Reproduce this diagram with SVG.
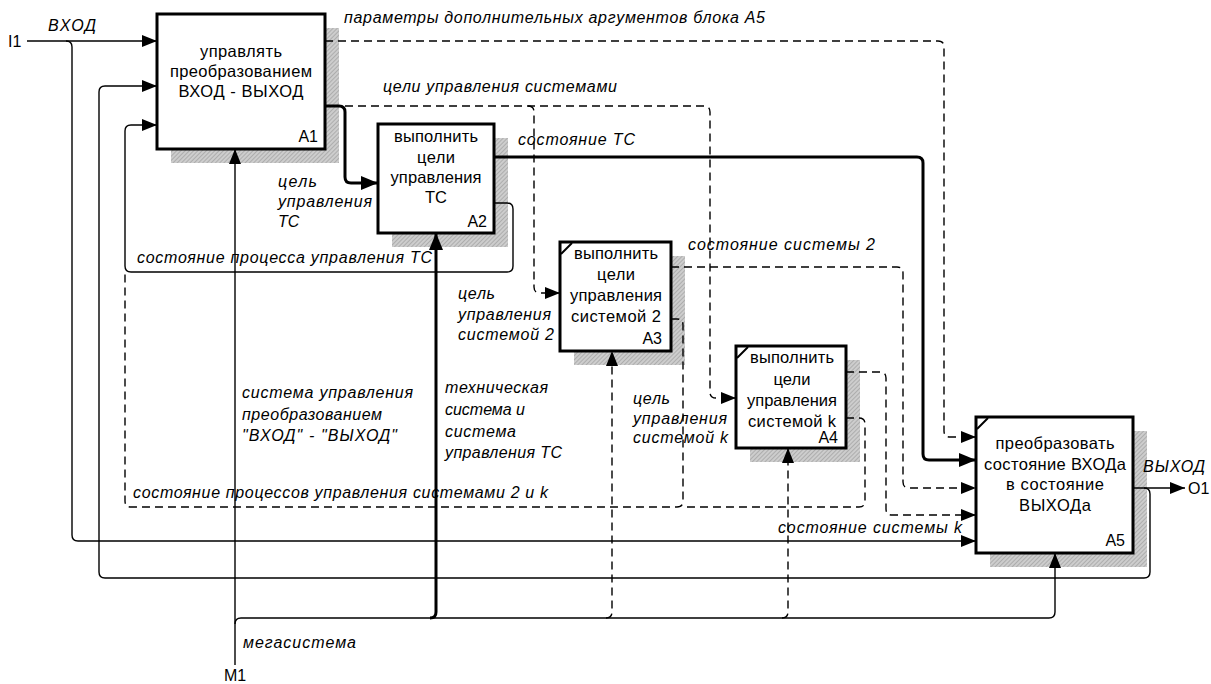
<svg xmlns="http://www.w3.org/2000/svg" width="1211" height="684" viewBox="0 0 1211 684">
<defs>
<pattern id="hatch" width="3" height="3" patternUnits="userSpaceOnUse" patternTransform="rotate(45)">
<rect width="3" height="3" fill="#cdcdcd"/><rect width="1" height="3" fill="#adadad"/>
</pattern>
<marker id="ar" markerUnits="userSpaceOnUse" markerWidth="15" markerHeight="12" refX="15" refY="6" orient="auto"><path d="M0,0 L15,6 L0,12 z" fill="#000"/></marker>
<marker id="arT" markerUnits="userSpaceOnUse" markerWidth="17" markerHeight="14" refX="17" refY="7" orient="auto"><path d="M0,0 L17,7 L0,14 z" fill="#000"/></marker>
<style>
.sh{fill:url(#hatch);}
.bx{fill:#fff;stroke:#000;stroke-width:3;}
.cn{fill:none;stroke:#000;stroke-width:1.4;stroke-linejoin:round;}
.th{fill:none;stroke:#000;stroke-width:3;}
.ds{fill:none;stroke:#000;stroke-width:1.4;stroke-dasharray:8 5;}
.cr{stroke:#000;stroke-width:2;}
.bt{font-family:"Liberation Sans",Arial,sans-serif;font-size:16.5px;text-anchor:middle;fill:#000;}
.id{font-family:"Liberation Sans",Arial,sans-serif;font-size:16px;text-anchor:end;fill:#000;}
.lb{font-family:"Liberation Sans",Arial,sans-serif;font-size:16px;font-style:italic;fill:#000;}
.tm{font-family:"Liberation Sans",Arial,sans-serif;font-size:16px;fill:#000;}
</style>
</defs>
<rect width="1211" height="684" fill="#fff"/>

<g id="A1">
<rect class="sh" x="171" y="28" width="168" height="135"/>
<rect class="bx" x="157" y="14" width="168" height="135"/>
<text class="bt" x="241" y="57" textLength="82">управлять</text>
<text class="bt" x="241" y="77" textLength="142">преобразованием</text>
<text class="bt" x="241" y="97" textLength="125">ВХОД - ВЫХОД</text>
<text class="id" x="318" y="142">A1</text>
</g>

<g id="A2">
<rect class="sh" x="392" y="138" width="116" height="109"/>
<rect class="bx" x="378" y="124" width="116" height="109"/>
<text class="bt" x="436" y="142" textLength="84">выполнить</text>
<text class="bt" x="436" y="163" textLength="38">цели</text>
<text class="bt" x="436" y="183" textLength="91">управления</text>
<text class="bt" x="436" y="203">ТС</text>
<text class="id" x="487" y="227">A2</text>
</g>

<g id="A3">
<rect class="sh" x="574" y="256" width="111" height="109"/>
<rect class="bx" x="560" y="242" width="111" height="109"/>
<line class="cr" x1="561" y1="254" x2="572" y2="243"/>
<text class="bt" x="616" y="259" textLength="84">выполнить</text>
<text class="bt" x="616" y="280" textLength="38">цели</text>
<text class="bt" x="616" y="301" textLength="92">управления</text>
<text class="bt" x="616" y="322" textLength="90">системой 2</text>
<text class="id" x="662" y="344">A3</text>
</g>

<g id="A4">
<rect class="sh" x="750" y="360" width="110" height="102"/>
<rect class="bx" x="736" y="346" width="110" height="102"/>
<line class="cr" x1="737" y1="358" x2="748" y2="347"/>
<text class="bt" x="792" y="363" textLength="84">выполнить</text>
<text class="bt" x="792" y="385" textLength="37">цели</text>
<text class="bt" x="792" y="406" textLength="90">управления</text>
<text class="bt" x="792" y="427" textLength="88">системой k</text>
<text class="id" x="838" y="443">A4</text>
</g>

<g id="A5">
<rect class="sh" x="990" y="431" width="157" height="136"/>
<rect class="bx" x="976" y="417" width="157" height="136"/>
<line class="cr" x1="977" y1="429" x2="988" y2="418"/>
<text class="bt" x="1055" y="449" textLength="119">преобразовать</text>
<text class="bt" x="1055" y="470" textLength="142">состояние ВХОДа</text>
<text class="bt" x="1055" y="490" textLength="98">в состояние</text>
<text class="bt" x="1055" y="511" textLength="72">ВЫХОДа</text>
<text class="id" x="1125" y="546">A5</text>
</g>

<g id="connectors">
<path class="cn" d="M27,41 H157" marker-end="url(#ar)"/>
<path class="cn" d="M66,41 Q72,41 72,47 V535 Q72,541 78,541 H976" marker-end="url(#ar)"/>
<path class="cn" d="M1133,488 H1185" marker-end="url(#ar)"/>
<path class="cn" d="M1144,488 Q1150,488 1150,494 V572 Q1150,578 1144,578 H105 Q99,578 99,572 V92 Q99,86 105,86 H157" marker-end="url(#ar)"/>
<path class="cn" d="M494,203 H507 Q513,203 513,209 V266 Q513,272 507,272 H131 Q125,272 125,266 V131 Q125,125 131,125 H157" marker-end="url(#ar)"/>
<path class="cn" d="M235,665 V149" marker-end="url(#ar)"/>
<path class="cn" d="M235,624 Q235,618 241,618 H1049 Q1055,618 1055,612 V553" marker-end="url(#ar)"/>
<path class="th" d="M325,106 H339 Q345,106 345,112 V177 Q345,183 351,183 H378" marker-end="url(#arT)"/>
<path class="th" d="M494,157 H917 Q923,157 923,163 V454 Q923,460 929,460 H976" marker-end="url(#arT)"/>
<path class="th" d="M430,618 Q436,618 436,612 V233" marker-end="url(#arT)"/>
<path class="ds" d="M325,41 H938 Q944,41 944,47 V431 Q944,437 950,437 H976" marker-end="url(#ar)"/>
<path class="ds" d="M345,106 H704 Q710,106 710,112 V392 Q710,398 716,398 H736" marker-end="url(#ar)"/>
<path class="ds" d="M528,106 Q534,106 534,112 V287 Q534,293 540,293 H560" marker-end="url(#ar)"/>
<path class="ds" d="M671,267 H897 Q903,267 903,273 V482 Q903,488 909,488 H976" marker-end="url(#ar)"/>
<path class="ds" d="M671,319 H677 Q683,319 683,325 V501 Q683,507 677,507 H131 Q125,507 125,501 V272"/>
<path class="ds" d="M846,372 H880 Q886,372 886,378 V509 Q886,515 892,515 H976" marker-end="url(#ar)"/>
<path class="ds" d="M846,418 H859 Q865,418 865,424 V501 Q865,507 859,507 H683"/>
<path class="ds" d="M606,618 Q612,618 612,612 V351" marker-end="url(#ar)"/>
<path class="ds" d="M782,618 Q788,618 788,612 V448" marker-end="url(#ar)"/>
</g>

<g id="labels">
<text class="tm" x="8" y="47">I1</text>
<text class="lb" x="48" y="31" textLength="48">ВХОД</text>
<text class="lb" x="344" y="23" textLength="421">параметры дополнительных аргументов блока А5</text>
<text class="lb" x="383" y="92" textLength="234">цели управления системами</text>
<text class="lb" x="518" y="145" textLength="117">состояние ТС</text>
<text class="lb" x="278" y="187" textLength="39">цель</text>
<text class="lb" x="278" y="207" textLength="94">управления</text>
<text class="lb" x="278" y="227">ТС</text>
<text class="lb" x="137" y="263" textLength="295">состояние процесса управления ТС</text>
<text class="lb" x="688" y="250" textLength="187">состояние системы 2</text>
<text class="lb" x="458" y="299" textLength="37">цель</text>
<text class="lb" x="458" y="320" textLength="93">управления</text>
<text class="lb" x="458" y="340" textLength="96">системой 2</text>
<text class="lb" x="633" y="404" textLength="37">цель</text>
<text class="lb" x="633" y="424" textLength="94">управления</text>
<text class="lb" x="633" y="443" textLength="95">системой k</text>
<text class="lb" x="242" y="398" textLength="171">система управления</text>
<text class="lb" x="242" y="420" textLength="140">преобразованием</text>
<text class="lb" x="242" y="441" textLength="155">"ВХОД" - "ВЫХОД"</text>
<text class="lb" x="445" y="393" textLength="103">техническая</text>
<text class="lb" x="445" y="415" textLength="80">система и</text>
<text class="lb" x="445" y="437" textLength="71">система</text>
<text class="lb" x="445" y="458" textLength="117">управления ТС</text>
<text class="lb" x="133" y="498" textLength="415">состояние процессов управления системами 2 и k</text>
<text class="lb" x="778" y="533" textLength="184">состояние системы k</text>
<text class="lb" x="1143" y="472" textLength="62">ВЫХОД</text>
<text class="tm" x="1188" y="494">O1</text>
<text class="lb" x="243" y="648" textLength="113">мегасистема</text>
<text class="tm" x="224" y="681">M1</text>
</g>
</svg>
